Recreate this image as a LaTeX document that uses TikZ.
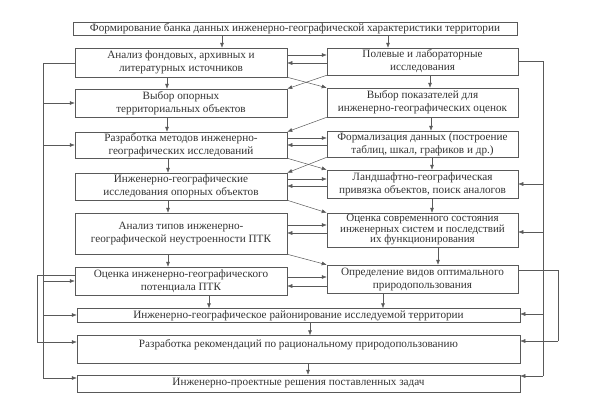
\documentclass[tikz,border=0pt]{standalone}
\usepackage{fontspec}
\setmainfont{Liberation Serif}
\usetikzlibrary{arrows.meta}
\begin{document}
\begin{tikzpicture}[x=1pt,y=-1pt,
  box/.style={draw=black!65, line width=0.5pt, inner sep=0.3pt, align=center,
    font=\fontsize{11.2}{13}\selectfont, text=black!80},
  ln/.style={draw=black!65, line width=0.5pt},
  arr/.style={draw=black!65, line width=0.5pt, -{Latex[length=5pt,width=4pt]}}]
\useasboundingbox (0,0) rectangle (590,408);
% top
\node[box, minimum width=444pt, minimum height=13pt] (T) at (295,28.5)
  {Формирование банка данных инженерно-географической характеристики территории};
% left column
\node[box, minimum width=212pt, minimum height=29pt] (L1) at (181,62.5)
  {Анализ фондовых, архивных и\\литературных источников};
\node[box, minimum width=212pt, minimum height=28pt] (L2) at (181,103)
  {Выбор опорных\\территориальных объектов};
\node[box, minimum width=212pt, minimum height=26pt] (L3) at (181,145)
  {Разработка методов инженерно-\\географических исследований};
\node[box, minimum width=212pt, minimum height=27pt] (L4) at (181,186.5)
  {Инженерно-географические\\исследования опорных объектов};
\node[box, minimum width=212pt, minimum height=41pt] (L5) at (181,233.5)
  {Анализ типов инженерно-\\географической неустроенности ПТК};
\node[box, minimum width=212pt, minimum height=28pt] (L6) at (181,281)
  {Оценка инженерно-географического\\потенциала ПТК};
% right column
\node[box, minimum width=191pt, minimum height=27pt] (R1) at (422.5,61.5)
  {Полевые и лабораторные\\исследования};
\node[box, minimum width=191pt, minimum height=29pt] (R2) at (422.5,102.5)
  {Выбор показателей для\\инженерно-географических оценок};
\node[box, minimum width=191pt, minimum height=26pt] (R3) at (422.5,144)
  {Формализация данных (построение\\таблиц, шкал, графиков и др.)};
\node[box, minimum width=191pt, minimum height=28pt] (R4) at (422.5,184)
  {Ландшафтно-географическая\\привязка объектов, поиск аналогов};
\node[box, minimum width=191pt, minimum height=34pt,
  font=\fontsize{11}{10.5}\selectfont] (R5) at (422.5,230)
  {Оценка современного состояния\\инженерных систем и последствий\\их функционирования};
\node[box, minimum width=191pt, minimum height=28pt] (R6) at (422.5,279)
  {Определение видов оптимального\\природопользования};
% wide boxes
\node[box, minimum width=443pt, minimum height=14pt] (W1) at (298.5,315.5)
  {Инженерно-географическое районирование исследуемой территории};
\node[box, minimum width=443pt, minimum height=28pt] (W2) at (298.5,349.5)
  {Разработка рекомендаций по рациональному природопользованию\\\mbox{}};
\node[box, minimum width=443pt, minimum height=17pt] (W3) at (298.5,383.5)
  {Инженерно-проектные решения поставленных задач};
% helper coordinates
\coordinate (lv) at (43,0);
\coordinate (lw) at (37,0);
\coordinate (rv) at (543,0);
\coordinate (rw) at (558,0);
% vertical arrows
\draw[arr] (T.south -| 222,0) -- (L1.north -| 222,0);
\draw[arr] (T.south -| 388,0) -- (R1.north -| 388,0);
\draw[arr] (L1.south -| 167,0) -- (L2.north -| 167,0);
\draw[arr] (L2.south -| 167,0) -- (L3.north -| 167,0);
\draw[arr] (L3.south -| 168,0) -- (L4.north -| 168,0);
\draw[arr] (L4.south -| 168,0) -- (L5.north -| 168,0);
\draw[arr] (L5.south -| 168,0) -- (L6.north -| 168,0);
\draw[arr] (L6.south -| 209,0) -- (W1.north -| 209,0);
\draw[arr] (R1.south -| 430,0) -- (R2.north -| 430,0);
\draw[arr] (R2.south -| 431,0) -- (R3.north -| 431,0);
\draw[arr] (R3.south -| 432,0) -- (R4.north -| 432,0);
\draw[arr] (R4.south -| 432,0) -- (R5.north -| 432,0);
\draw[arr] (R5.south -| 438,0) -- (R6.north -| 438,0);
\draw[arr] (R6.south -| 383,0) -- (W1.north -| 383,0);
\draw[arr] (W1.south -| 310,0) -- (W2.north -| 310,0);
\draw[arr] (W2.south -| 308,0) -- (W3.north -| 308,0);
% between columns
\draw[arr] (L1.east |- 0,55) -- (R1.west |- 0,55);
\draw[arr] (R1.west |- 0,63) -- (L1.east |- 0,63);
\draw[arr] (L1.south east) -- (R2.north west);
\draw[arr] (R1.south west) -- (L2.north east);
\draw[arr] (R2.south west) -- (L3.north east);
\draw[arr] (L3.east |- 0,138) -- (R3.west |- 0,138);
\draw[arr] (R3.west |- 0,145) -- (L3.east |- 0,145);
\draw[arr] (L3.south east) -- (R4.north west);
\draw[arr] (R3.south west) -- (L4.north east);
\draw[arr] (L4.east |- 0,179) -- (R4.west |- 0,179);
\draw[arr] (R4.west |- 0,186) -- (L4.east |- 0,186);
\draw[arr] (L4.south east) -- (R5.north west);
\draw[arr] (L5.east |- 0,225) -- (R5.west |- 0,225);
\draw[arr] (R5.west |- 0,233) -- (L5.east |- 0,233);
\draw[arr] (L5.south east) -- (R6.north west);
\draw[arr] (L6.east |- 0,277) -- (R6.west |- 0,277);
\draw[arr] (R6.west |- 0,286) -- (L6.east |- 0,286);
% left feedback lines
\draw[ln] (L1.west |- 0,63) -- (lv |- 0,63) -- (lv |- 0,378);
\draw[arr] (lv |- L2.west) -- (L2.west);
\draw[arr] (lv |- L3.west) -- (L3.west);
\draw[arr] (lv |- 0,281) -- (L6.west |- 0,281);
\draw[arr] (lv |- 0,315) -- (W1.west |- 0,315);
\draw[arr] (lv |- 0,378) -- (W3.west |- 0,378);
\draw[ln] (L6.west |- 0,275) -- (lw |- 0,275) -- (lw |- 0,342);
\draw[arr] (lw |- 0,342) -- (W2.west |- 0,342);
% right feedback lines
\draw[ln] (R1.east) -- (R1.east -| rv) -- (rv |- 0,376);
\draw[arr] (rv |- R4.east) -- (R4.east);
\draw[arr] (rv |- 0,232) -- (R5.east |- 0,232);
\draw[arr] (rv |- 0,314) -- (W1.east |- 0,314);
\draw[arr] (rv |- 0,376) -- (W3.east |- 0,376);
\draw[ln] (R6.east |- 0,270) -- (rw |- 0,270) -- (rw |- 0,341);
\draw[arr] (rw |- 0,341) -- (W2.east |- 0,341);
\end{tikzpicture}
\end{document}
